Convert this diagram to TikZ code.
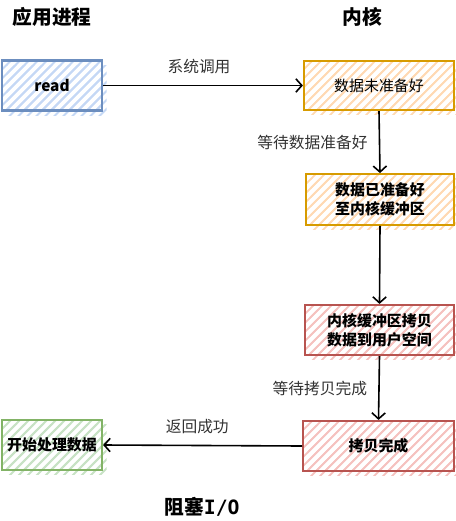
\documentclass[tikz,border=0pt]{standalone}
\usepackage{fontspec}
\setmainfont{Noto Sans CJK SC}
\newfontfamily\monofnt{DejaVu Sans Mono}
\usetikzlibrary{arrows.meta,calc}
\definecolor{bstroke}{HTML}{6C8EBF}\definecolor{bhatch}{HTML}{C5D8F5}
\definecolor{ostroke}{HTML}{D79B00}\definecolor{ohatch}{HTML}{FFD9B3}
\definecolor{rstroke}{HTML}{B85450}\definecolor{rhatch}{HTML}{F5C2BF}
\definecolor{gstroke}{HTML}{82B366}\definecolor{ghatch}{HTML}{C8E2C5}
\definecolor{lbl}{HTML}{333333}
\tikzset{
  hatchfill/.style={path picture={
      \foreach \i in {0,...,30}
        \draw[#1, line width=1.4pt] ($(path picture bounding box.south west)+(\i*9-70,2)$) -- ++(95,-95);}},
  hatch/.style={preaction={draw=none, hatchfill=#1, transform canvas={shift={(4.5,4.5)}}}, hatchfill=#1},
  box/.style={draw, line width=1.6pt, rectangle, align=center, inner sep=2pt, font=\fontsize{11.2}{14}\selectfont},
  arr/.style={draw=black, line width=1.2pt, -{Straight Barb[length=4.5pt,width=10pt,line width=1.2pt]}},
  elab/.style={font=\fontsize{11.8}{14}\selectfont, text=lbl},
  title/.style={font=\fontsize{14.8}{18}\selectfont\bfseries}
}
\begin{document}
\begin{tikzpicture}[x=0.75pt,y=-0.75pt]
\useasboundingbox (0,0) rectangle (456,521);
\node[title] (t1) at (52,17) {应用进程};
\node[title] (t2) at (362,17) {内核};
\node[title] (t3) at (202,507) {阻塞{\monofnt I/O}};

\node[box, hatch=bhatch, draw=bstroke, minimum width=75pt, minimum height=37.5pt, font=\fontsize{11.5}{14}\selectfont\bfseries] (read) at (52,85.5) {read};
\node[box, hatch=ohatch, draw=ostroke, minimum width=112.5pt, minimum height=37pt] (k1) at (379,85.5) {数据未准备好};
\node[box, hatch=ohatch, draw=ostroke, minimum width=111pt, minimum height=38pt, font=\fontsize{11.2}{14.5}\selectfont\bfseries] (k2) at (380,199.5) {数据已准备好\\至内核缓冲区};
\node[box, hatch=rhatch, draw=rstroke, minimum width=112pt, minimum height=37.5pt, font=\fontsize{11.2}{14.5}\selectfont\bfseries] (k3) at (379.5,330) {内核缓冲区拷贝\\数据到用户空间};
\node[box, hatch=rhatch, draw=rstroke, minimum width=113pt, minimum height=37.5pt, font=\fontsize{11.2}{14}\selectfont\bfseries] (k4) at (378.5,446) {拷贝完成};
\node[box, hatch=ghatch, draw=gstroke, minimum width=75pt, minimum height=37.5pt, font=\fontsize{11.2}{14}\selectfont\bfseries] (app) at (52,445) {开始处理数据};

\draw[arr] (read.east) -- node[elab, midway, above=5pt, xshift=-3pt] {系统调用} (k1.west);
\draw[arr] (k1.south) -- node[elab, midway, left=5pt] {等待数据准备好} (k2.north);
\draw[arr] (k2.south) -- (k3.north);
\draw[arr] (k3.south) -- node[elab, midway, left=5pt] {等待拷贝完成} (k4.north);
\draw[arr] (k4.west) -- node[elab, midway, above=5pt, xshift=-4pt] {返回成功} (app.east);
\end{tikzpicture}
\end{document}
